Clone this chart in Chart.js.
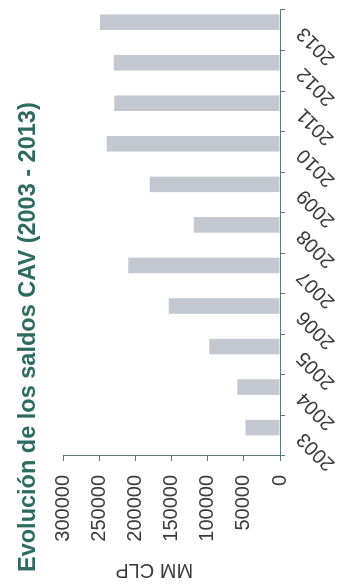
<!DOCTYPE html>
<html>
<head>
<meta charset="utf-8">
<script src="https://cdn.jsdelivr.net/npm/chart.js@4"></script>
<style>
  html, body { margin: 0; padding: 0; background: #fff; overflow: hidden; }
  /* the chart is laid out wide and then turned a quarter turn */
  #wrap {
    position: absolute;
    left: 0;
    top: 0;
    width: 586px;
    height: 339px;
    transform-origin: 0 0;
    transform: translate(0, 586px) rotate(-90deg);
  }
</style>
</head>
<body>
<div id="wrap"><canvas id="cav-chart" width="586" height="339"></canvas></div>
<script>
const years = ["2003", "2004", "2005", "2006", "2007", "2008", "2009", "2010", "2011", "2012", "2013"];
const saldosCAV = [47800, 59300, 97900, 153900, 209900, 119500, 180100, 239800, 229500, 230000, 249000];
const emptySeries = [];
const valueTicks = [0, 50000, 100000, 150000, 200000, 250000, 300000];

const fontFamily = "'Liberation Sans', Arial, sans-serif";
const axisColor = "#5b7d77";
const textColor = "#3a3a3a";

// "MM CLP" sits a bit above the middle of the value axis
const axisTitle = {
  id: "axisTitle",
  afterDraw(chart) {
    const { ctx, chartArea } = chart;
    ctx.save();
    ctx.translate(chartArea.left - 114, chartArea.top + chartArea.height * 0.42);
    ctx.rotate(-Math.PI / 2);
    ctx.font = "20px " + fontFamily;
    ctx.fillStyle = textColor;
    ctx.textAlign = "center";
    ctx.textBaseline = "middle";
    ctx.fillText("MM CLP", 0, 0);
    ctx.restore();
  },
};

function createChart() {
  const canvas = document.getElementById("cav-chart");

  const data = {
    labels: years,
    datasets: [
      {
        label: "",
        data: emptySeries,
        backgroundColor: "rgba(0,0,0,0)",
        categoryPercentage: 0.8,
        barPercentage: 0.96,
      },
      {
        label: "Saldos CAV",
        data: saldosCAV,
        backgroundColor: "#c3c7cf",
        borderWidth: 0,
        categoryPercentage: 0.8,
        barPercentage: 0.96,
      },
    ],
  };

  const config = {
    type: "bar",
    data: data,
    options: {
      responsive: false,
      animation: false,
      layout: {
        padding: { left: 14, right: 10, top: 0, bottom: 0 },
      },
      plugins: {
        legend: { display: false },
        tooltip: { enabled: false },
        title: {
          display: true,
          text: "Evolución de los saldos CAV (2003 - 2013)",
          align: "start",
          color: "#2d6b60",
          font: { family: fontFamily, size: 23.5, weight: "bold" },
          padding: { top: 14, bottom: 21 },
        },
      },
      scales: {
        x: {
          grid: {
            display: true,
            drawOnChartArea: false,
            drawTicks: true,
            tickLength: 5,
            color: axisColor,
          },
          border: { display: true, color: axisColor, width: 1 },
          ticks: {
            color: textColor,
            font: { family: fontFamily, size: 20 },
            minRotation: 45,
            maxRotation: 45,
            padding: 7,
          },
          afterFit(scale) {
            scale.height = 59;
          },
        },
        y: {
          min: 0,
          max: 300000,
          afterBuildTicks(scale) {
            scale.ticks = valueTicks.map((v) => ({ value: v }));
          },
          grid: {
            display: true,
            drawOnChartArea: false,
            drawTicks: true,
            tickLength: 5,
            color: axisColor,
          },
          border: { display: true, color: axisColor, width: 1 },
          ticks: {
            color: textColor,
            font: { family: fontFamily, size: 20 },
            padding: 14,
            callback: (v) => String(v),
          },
          afterFit(scale) {
            scale.width = 116;
          },
        },
      },
    },
    plugins: [axisTitle],
  };

  new Chart(canvas, config);
}

createChart();
</script>
</body>
</html>
